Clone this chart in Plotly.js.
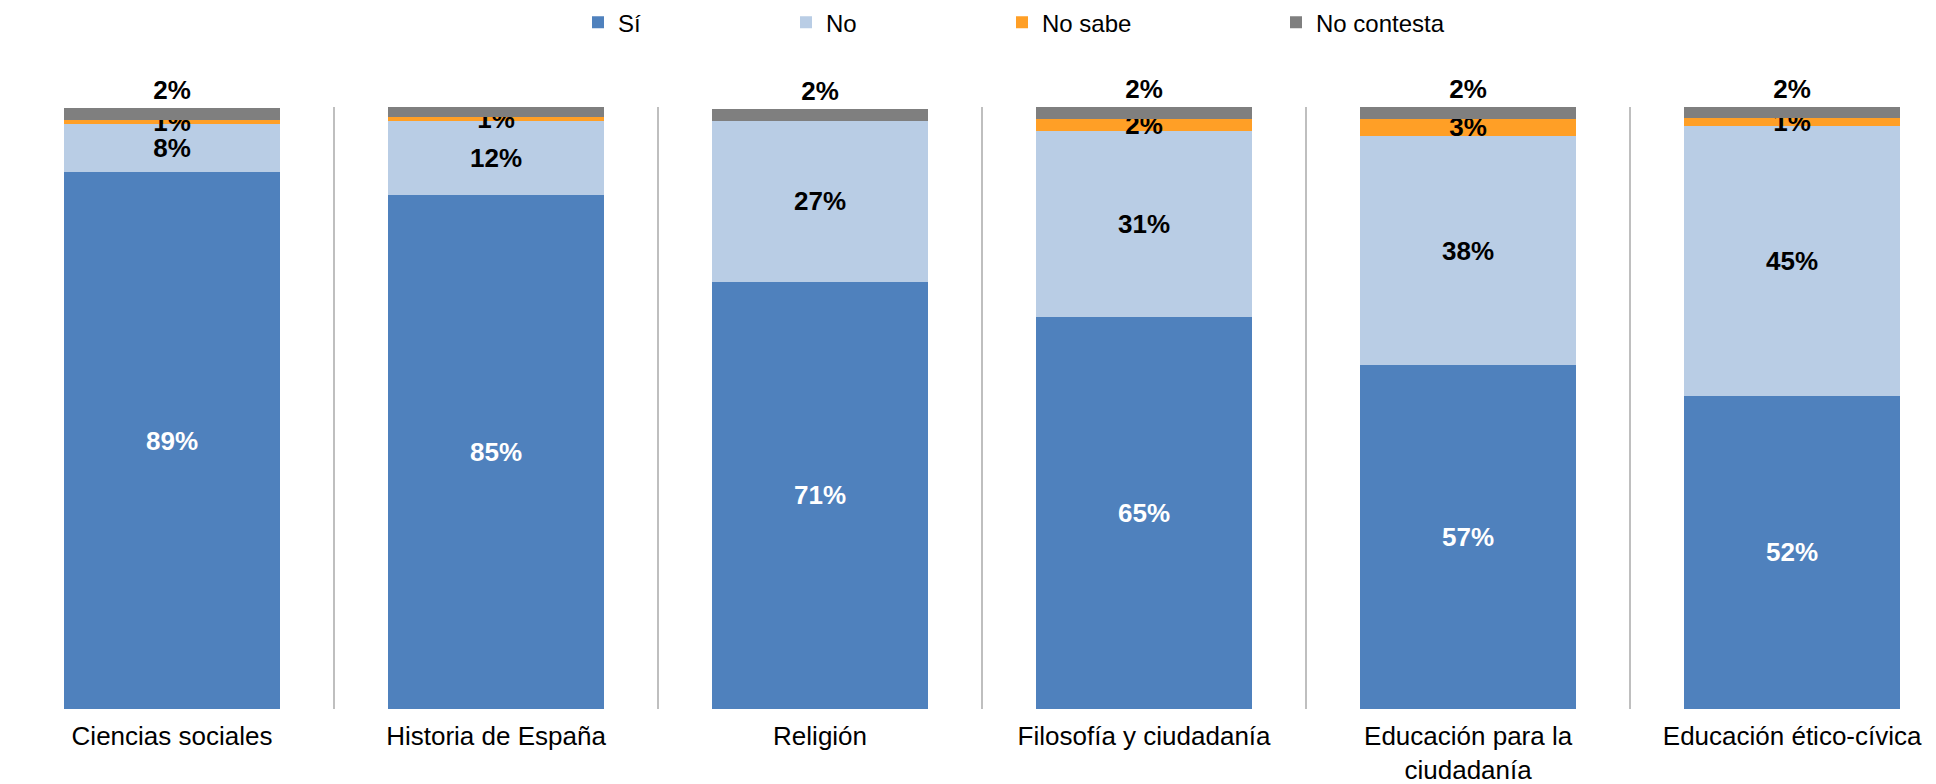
<!DOCTYPE html>
<html>
<head>
<meta charset="utf-8">
<script src="https://cdn.plot.ly/plotly-3.0.1.min.js"></script>
<style>html,body{margin:0;padding:0;background:#fff;}#chart{width:1936px;height:784px;}</style>
</head>
<body>
<div id="chart"></div>
<script>
// Categories (subjects)
const categories = [
  "Ciencias sociales",
  "Historia de España",
  "Religión",
  "Filosofía y ciudadanía",
  "Educación para la<br>ciudadanía",
  "Educación ético-cívica"
];
// Series values (%)
const si         = [89.2, 85.3, 71.0, 65.1, 57.1, 52.0];
const no         = [8.0, 12.3, 26.7, 30.9, 38.1, 44.8];
const noSabe     = [0.7, 0.7, 0.0, 2.0, 2.8, 1.4];
const noContesta = [2.0, 1.8, 1.9, 2.0, 2.0, 1.8];
const seriesNames = ["Sí", "No", "No sabe", "No contesta"];

const FONT = "Arial, 'Liberation Sans', sans-serif";
const labels = vals => vals.map(v => v > 0 ? Math.round(v) + "%" : "");

function barTrace(name, vals, color, textColor, legendId, pos) {
  const f = {family: FONT, size: 26, color: textColor, weight: "bold"};
  return {
    type: "bar",
    name: name,
    x: categories,
    y: vals,
    text: labels(vals),
    textposition: pos || "inside",
    insidetextanchor: "middle",
    constraintext: "none",
    textangle: 0,
    cliponaxis: false,
    textfont: f,
    insidetextfont: f,
    outsidetextfont: f,
    marker: {color: color, line: {width: 0}},
    legend: legendId,
    hoverinfo: "skip"
  };
}

const data = [
  barTrace(seriesNames[0], si, "#4F81BD", "#FFFFFF", "legend"),
  barTrace(seriesNames[1], no, "#B9CDE5", "#000000", "legend2"),
  barTrace(seriesNames[2], noSabe, "#FF9F26", "#000000", "legend3"),
  barTrace(seriesNames[3], noContesta, "#7F7F7F", "#000000", "legend4", "outside")
];

const plotL = 10, plotW = 1926;
const px = p => (p - plotL) / plotW;
const legBase = {orientation: "h", yanchor: "middle", xanchor: "left", y: 1.14,
  font: {family: FONT, size: 24, color: "#000"}, bgcolor: "rgba(0,0,0,0)", borderwidth: 0};

const layout = {
  width: 1936,
  height: 784,
  margin: {l: plotL, r: 0, t: 105, b: 75, pad: 0},
  paper_bgcolor: "#FFFFFF",
  plot_bgcolor: "#FFFFFF",
  barmode: "stack",
  bargap: 0.333,
  font: {family: FONT, color: "#000"},
  showlegend: true,
  legend:  Object.assign({}, legBase, {x: px(600 - 22)}),
  legend2: Object.assign({}, legBase, {x: px(808 - 22)}),
  legend3: Object.assign({}, legBase, {x: px(1023 - 21)}),
  legend4: Object.assign({}, legBase, {x: px(1297 - 21)}),
  xaxis: {
    type: "category",
    range: [-0.5, 5.444],
    tickson: "boundaries",
    showgrid: true,
    gridcolor: "#BFBFBF",
    gridwidth: 2,
    ticks: "",
    showline: false,
    zeroline: false,
    ticklabelstandoff: 9,
    tickfont: {family: FONT, size: 26, color: "#000"}
  },
  yaxis: {
    range: [0, 100],
    visible: false,
    showgrid: false,
    zeroline: false
  }
};

Plotly.newPlot("chart", data, layout, {displayModeBar: false, staticPlot: true});
</script>
</body>
</html>
